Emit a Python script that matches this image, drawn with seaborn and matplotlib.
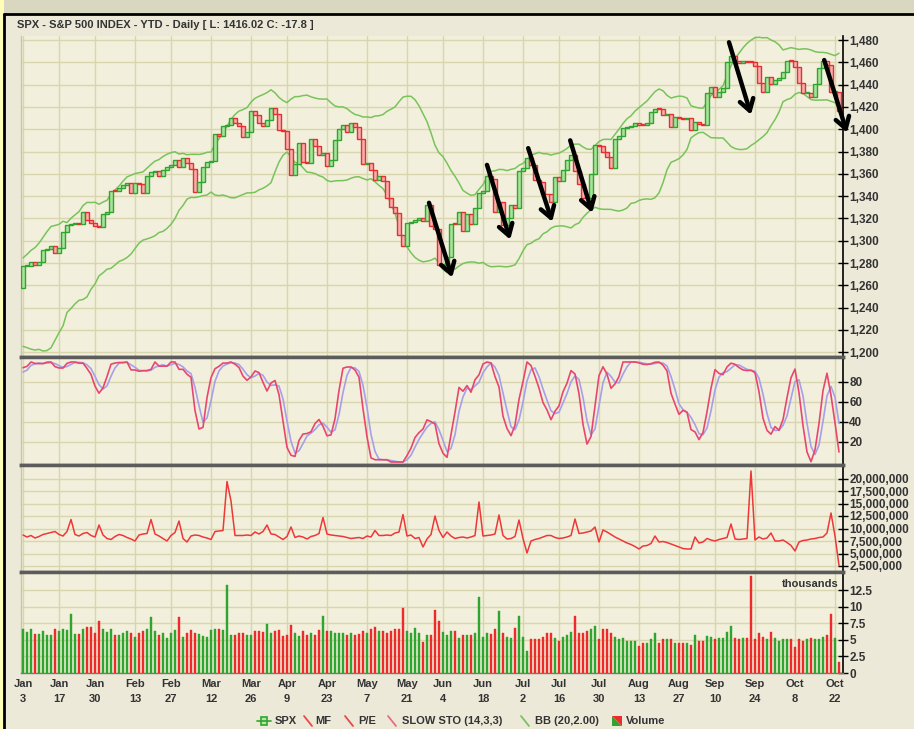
import numpy as np
import pandas as pd
import matplotlib
matplotlib.use("Agg")
import matplotlib.pyplot as plt
import seaborn as sns
from matplotlib.lines import Line2D
from matplotlib.patches import Rectangle, Polygon
from matplotlib.ticker import FixedLocator, FuncFormatter

# ---------------- data ----------------
# Dec 2011 closes (needed to seed the 20-day Bollinger and 14-day stochastic)
prior_closes = [1244.58, 1244.28, 1257.08, 1258.47, 1261.01, 1234.35, 1255.19, 1236.47,
                1225.73, 1211.82, 1215.75, 1219.66, 1205.35, 1241.30, 1243.72, 1254.00,
                1265.33, 1265.43, 1249.64, 1263.02, 1257.60]

close_jan = [1277.06, 1277.30, 1281.06, 1277.81, 1280.70, 1292.08, 1292.48, 1295.50, 1289.09, 1293.67,
             1308.04, 1314.50, 1315.38, 1316.00, 1314.65, 1326.06, 1318.43, 1316.33, 1313.01, 1312.41]
close_feb = [1324.09, 1325.54, 1344.90, 1344.33, 1347.05, 1349.96, 1351.95, 1342.64, 1351.77, 1350.50,
             1343.23, 1358.04, 1361.23, 1362.21, 1357.66, 1363.46, 1365.74, 1367.59, 1372.18, 1365.68]
close_mar = [1374.09, 1369.63, 1364.33, 1343.36, 1352.63, 1365.91, 1370.87, 1371.09, 1395.95, 1394.28, 1402.60,
             1404.17, 1409.75, 1405.52, 1402.89, 1392.78, 1397.11, 1416.51, 1412.52, 1405.54, 1403.28, 1408.47]
close_apr = [1419.04, 1413.38, 1398.96, 1398.08, 1382.20, 1358.59, 1368.71, 1387.57, 1370.26, 1369.57,
             1390.78, 1385.14, 1376.92, 1378.53, 1366.94, 1371.97, 1390.69, 1399.98, 1403.36, 1397.91]
close_may = [1405.82, 1402.31, 1391.57, 1369.10, 1369.58, 1363.72, 1354.58, 1357.99, 1353.39, 1338.35, 1330.66,
             1324.80, 1304.86, 1295.22, 1315.99, 1316.63, 1318.86, 1320.68, 1317.82, 1332.42, 1313.32, 1310.33]
close_jun = [1278.04, 1278.18, 1285.50, 1315.13, 1314.99, 1325.66, 1308.93, 1324.18, 1314.88, 1329.10, 1342.84,
             1344.78, 1357.98, 1355.69, 1325.51, 1335.02, 1313.72, 1319.99, 1331.85, 1329.04, 1362.16]
close_jul = [1365.51, 1374.02, 1367.58, 1354.68, 1352.46, 1341.47, 1341.45, 1334.76, 1356.78, 1353.64, 1363.67,
             1372.78, 1376.51, 1362.66, 1350.52, 1338.31, 1337.89, 1360.02, 1385.97, 1385.30, 1379.32]
close_aug = [1375.32, 1365.00, 1390.99, 1394.23, 1401.35, 1402.22, 1402.80, 1405.87, 1404.11, 1403.93, 1405.53, 1415.51,
             1418.16, 1418.13, 1413.17, 1413.49, 1402.08, 1411.13, 1410.44, 1409.30, 1410.49, 1399.48, 1406.58]
close_sep = [1404.94, 1403.44, 1432.12, 1437.92, 1429.08, 1433.56, 1436.56, 1459.99, 1465.77, 1461.19,
             1459.32, 1461.05, 1460.26, 1460.15, 1456.89, 1441.59, 1433.32, 1447.15, 1440.67]
close_oct = [1444.49, 1445.75, 1450.99, 1461.40, 1460.93, 1455.88, 1441.48, 1432.56, 1432.84,
             1428.59, 1440.13, 1454.92, 1460.91, 1457.34, 1433.19, 1433.82, 1416.02]

vol_jan = [6.7, 6.2, 6.6, 5.9, 5.9, 6.4, 5.8, 5.8, 6.7, 6.3, 6.6, 6.5, 8.9, 5.9, 5.9, 6.6, 7.0, 6.9, 6.0, 7.9]
vol_feb = [6.6, 6.2, 6.6, 5.8, 5.8, 6.1, 6.3, 6.1, 5.5, 6.0, 6.4, 6.6, 8.5, 6.4, 5.8, 6.0, 5.3, 6.0, 6.5, 8.5]
vol_mar = [5.4, 6.0, 6.5, 6.1, 5.9, 5.6, 5.4, 6.5, 6.7, 6.6, 6.5, 13.4, 5.7, 5.7, 6.0, 6.0, 5.8, 5.8, 6.3, 6.3, 6.2, 7.4]
vol_apr = [6.0, 6.3, 6.5, 5.6, 5.7, 7.3, 6.0, 5.6, 6.3, 5.8, 6.0, 5.7, 6.5, 8.6, 6.3, 6.4, 6.1, 6.0, 6.0, 5.8]
vol_may = [6.0, 5.8, 5.9, 6.3, 6.1, 6.7, 6.9, 6.4, 6.3, 6.0, 6.3, 6.6, 6.6, 9.8, 6.3, 6.1, 6.8, 6.1, 4.7, 5.7, 5.8, 9.5]
vol_jun = [7.9, 6.2, 5.7, 6.4, 6.4, 5.3, 5.8, 5.8, 5.7, 6.1, 11.5, 5.5, 6.0, 5.9, 6.6, 9.4, 6.0, 5.5, 5.3, 6.8, 8.6]
vol_jul = [5.5, 3.4, 5.1, 5.1, 5.1, 5.5, 6.0, 6.0, 5.3, 4.9, 5.5, 5.7, 6.2, 8.6, 6.0, 6.1, 6.4, 6.7, 7.1, 5.1, 6.6]
vol_aug = [6.6, 6.1, 5.5, 5.1, 5.3, 4.9, 4.8, 4.8, 4.1, 4.6, 4.6, 5.1, 6.0, 4.6, 5.2, 5.2, 5.1, 4.6, 4.5, 4.5, 4.5, 4.3, 5.8]
vol_sep = [4.9, 4.9, 5.6, 5.5, 5.1, 5.3, 5.3, 6.2, 7.1, 5.3, 5.1, 5.3, 5.3, 14.7, 5.1, 6.0, 5.5, 5.1, 6.2]
vol_oct = [5.3, 4.9, 5.2, 5.2, 5.1, 3.9, 5.1, 4.8, 5.1, 5.3, 5.1, 5.1, 5.5, 5.8, 9.0, 5.3, 1.7]

# MF line, millions
mf_jan = [8.7, 8.3, 8.6, 8.1, 8.4, 8.8, 9.0, 9.2, 9.4, 8.8, 8.5, 9.4, 11.8, 8.8, 8.5, 9.0, 9.2, 8.6, 8.3, 10.7]
mf_feb = [8.7, 8.0, 7.8, 8.4, 8.8, 8.6, 8.2, 7.9, 7.5, 8.7, 8.9, 9.0, 11.8, 8.9, 8.5, 8.0, 7.5, 8.6, 9.2, 11.5]
mf_mar = [8.0, 7.3, 8.5, 8.7, 8.6, 8.3, 8.1, 7.8, 9.4, 9.5, 9.6, 19.4, 15.5, 8.6, 8.6, 8.6, 8.7, 8.6, 9.3, 8.9, 9.4, 10.7]
mf_apr = [8.9, 8.8, 8.3, 7.8, 8.4, 10.3, 8.2, 8.5, 8.3, 7.9, 8.4, 8.6, 9.0, 12.2, 8.9, 8.7, 8.6, 8.5, 8.4, 8.2]
mf_may = [8.0, 8.1, 8.2, 8.0, 8.5, 8.3, 9.6, 8.6, 8.6, 8.7, 8.6, 9.1, 9.3, 12.8, 8.5, 8.7, 8.0, 8.2, 6.3, 7.9, 8.8, 12.5]
mf_jun = [9.6, 8.2, 9.3, 8.5, 8.0, 8.2, 8.3, 8.1, 8.3, 8.6, 15.3, 8.5, 8.6, 8.7, 8.9, 12.7, 8.6, 7.9, 8.0, 8.4, 11.7]
mf_jul = [8.0, 5.1, 7.5, 7.8, 8.0, 8.3, 8.6, 8.6, 8.2, 8.0, 8.1, 8.3, 8.6, 11.9, 9.0, 9.1, 9.3, 9.5, 10.3, 7.3, 9.7]
mf_aug = [9.3, 8.8, 8.3, 7.9, 7.5, 7.1, 6.8, 6.4, 5.9, 6.5, 6.6, 7.0, 8.5, 7.3, 7.4, 7.2, 6.9, 6.6, 6.3, 6.0, 5.9, 5.9, 8.3]
mf_sep = [7.1, 7.3, 8.0, 7.7, 7.5, 7.8, 8.0, 8.2, 10.9, 7.9, 7.8, 7.9, 8.0, 21.5, 7.7, 8.3, 7.9, 8.1, 9.1]
mf_oct = [7.5, 7.5, 7.7, 7.2, 6.6, 5.5, 7.3, 7.6, 7.7, 7.9, 8.0, 8.2, 8.3, 9.1, 13.1, 8.5, 2.6]

holidays = ["2012-01-16", "2012-02-20", "2012-04-06", "2012-05-28", "2012-07-04", "2012-09-03"]
tick_dates = ["2012-01-03", "2012-01-17", "2012-01-30", "2012-02-13", "2012-02-27", "2012-03-12",
              "2012-03-26", "2012-04-09", "2012-04-23", "2012-05-07", "2012-05-21", "2012-06-04",
              "2012-06-18", "2012-07-02", "2012-07-16", "2012-07-30", "2012-08-13", "2012-08-27",
              "2012-09-10", "2012-09-24", "2012-10-08", "2012-10-22"]

# hand-drawn arrows on the price panel: (day index, price) start -> end
arrow_start = [(101.5, 1334), (116.0, 1368), (126.3, 1383), (136.8, 1390), (176.5, 1478), (200.3, 1462)]
arrow_end = [(107.3, 1267), (121.8, 1301), (132.3, 1317), (142.3, 1325), (182.0, 1413), (206.0, 1397)]

title = "SPX - S&P 500 INDEX - YTD - Daily [ L: 1416.02 C: -17.8 ]"

# ---------------- prep ----------------
closes = (close_jan + close_feb + close_mar + close_apr + close_may + close_jun +
          close_jul + close_aug + close_sep + close_oct)
volume = vol_jan + vol_feb + vol_mar + vol_apr + vol_may + vol_jun + vol_jul + vol_aug + vol_sep + vol_oct
mf = mf_jan + mf_feb + mf_mar + mf_apr + mf_may + mf_jun + mf_jul + mf_aug + mf_sep + mf_oct
n = len(closes)
x = np.arange(n)

dates = pd.bdate_range("2012-01-03", "2012-10-23")
dates = dates[~dates.isin(pd.to_datetime(holidays))]
tick_idx = [int(dates.get_loc(pd.Timestamp(d))) for d in tick_dates]
tick_lbl = [f"{pd.Timestamp(d):%b}\n{pd.Timestamp(d).day}" for d in tick_dates]

opens = np.array([prior_closes[-1]] + closes[:-1])
cl = np.array(closes)
up = cl >= opens

full = pd.Series(prior_closes + closes)
mid = full.rolling(20).mean()
sd = full.rolling(20).std(ddof=0)
bb_up = (mid + 2 * sd).iloc[-n:].to_numpy()
bb_lo = (mid - 2 * sd).iloc[-n:].to_numpy()
lo14 = full.rolling(14).min()
hi14 = full.rolling(14).max()
fast_k = 100 * (full - lo14) / (hi14 - lo14)
slow_k = fast_k.rolling(3).mean()
slow_d = slow_k.rolling(3).mean()
slow_k = slow_k.iloc[-n:].to_numpy()
slow_d = slow_d.iloc[-n:].to_numpy()

# ---------------- style ----------------
sns.set_style("white")
plt.rcParams["font.family"] = ["Liberation Sans", "DejaVu Sans"]
plt.rcParams["font.weight"] = "bold"

W, H = 914, 729
BG = "#ECE9D8"
PLOT_BG = "#F2F0DC"
GRID = "#D9D5AE"
TXT = "#333333"

fig = plt.figure(figsize=(W / 100, H / 100), dpi=100, facecolor=BG)


def fx(px):
    return px / W


def fy(py):
    return 1 - py / H


# frame decoration
fig.add_artist(Rectangle((0, fy(13)), 1, 13 / H, transform=fig.transFigure, facecolor="#DAD7C0",
                         edgecolor="none", zorder=0))
fig.add_artist(Rectangle((0, 0), fx(4), 1, transform=fig.transFigure, facecolor="#FFFFB8",
                         edgecolor="none", zorder=0))
fig.add_artist(Line2D([fx(4), 1], [fy(14), fy(14)], transform=fig.transFigure, color="black", lw=2))
fig.add_artist(Line2D([fx(4), fx(4)], [0, fy(14)], transform=fig.transFigure, color="black", lw=2))

L, R = 21, 843
panels = [(36, 357), (357, 465), (465, 572), (572, 673)]
axes = []
for top, bot in panels:
    ax = fig.add_axes([fx(L), fy(bot), (R - L) / W, (bot - top) / H])
    ax.set_facecolor(PLOT_BG)
    axes.append(ax)
ax1, ax2, ax3, ax4 = axes

for ax in axes:
    ax.set_xlim(-0.5, 205)
    ax.xaxis.set_major_locator(FixedLocator(tick_idx))
    ax.grid(True, color=GRID, lw=1.0, zorder=0)
    ax.set_axisbelow(True)
    ax.yaxis.tick_right()
    ax.tick_params(axis="y", which="both", direction="inout", length=7, width=1, color="black",
                   labelsize=8.5, labelcolor=TXT, pad=1, left=False, right=True)
    for s in ("top", "bottom"):
        ax.spines[s].set_color("#5C5C5C")
        ax.spines[s].set_linewidth(2.5)
    ax.spines["left"].set_color("#C9C6A6")
    ax.spines["left"].set_linewidth(1)
    ax.spines["right"].set_color("black")
    ax.spines["right"].set_linewidth(1.2)
    for lab in ax.get_yticklabels():
        lab.set_fontweight("bold")
ax1.spines["top"].set_visible(False)
ax4.spines["bottom"].set_linewidth(1.0)
ax4.spines["bottom"].set_color("#777777")

for ax in (ax1, ax2, ax3):
    ax.tick_params(axis="x", length=0, labelbottom=False)

# ---- price panel
ax1.set_ylim(1195.7, 1483.6)
ax1.set_yticks(np.arange(1200, 1481, 20))
ax1.yaxis.set_major_formatter(FuncFormatter(lambda v, p: f"{v:,.0f}"))
body_lo = np.minimum(opens, cl)
body_h = np.maximum(np.abs(cl - opens), 0.8)
face = ["#A9E29A" if u else "#F7AFAF" for u in up]
edge = ["#2FA52F" if u else "#E82E2E" for u in up]
ax1.bar(x, body_h, bottom=body_lo, width=0.8, color=face, edgecolor=edge, linewidth=1.0, zorder=3)
sns.lineplot(x=x, y=bb_up, ax=ax1, color="#78C35A", lw=1.1, zorder=2)
sns.lineplot(x=x, y=bb_lo, ax=ax1, color="#78C35A", lw=1.1, zorder=2)
for s, e in zip(arrow_start, arrow_end):
    ax1.annotate("", xy=e, xytext=s, annotation_clip=False, zorder=6,
                 arrowprops=dict(arrowstyle="->,head_length=0.8,head_width=0.5", lw=3.2,
                                 color="black", shrinkA=0, shrinkB=0))

# ---- slow stochastic
ax2.set_ylim(-3, 105)
ax2.set_yticks([20, 40, 60, 80])
sns.lineplot(x=x, y=slow_d, ax=ax2, color="#A79FEA", lw=1.2, zorder=3)
sns.lineplot(x=x, y=slow_k, ax=ax2, color="#E8466E", lw=1.2, zorder=4)

# ---- MF
ax3.set_ylim(1.3, 22.7)
ax3.set_yticks(np.arange(2.5, 20.01, 2.5))
ax3.yaxis.set_major_formatter(FuncFormatter(lambda v, p: f"{v * 1e6:,.0f}"))
sns.lineplot(x=x, y=mf, ax=ax3, color="#EE3838", lw=1.1, zorder=3)

# ---- volume
ax4.set_ylim(0, 15.3)
ax4.set_yticks(np.arange(0, 12.51, 2.5))
ax4.yaxis.set_major_formatter(FuncFormatter(lambda v, p: f"{v:g}"))
vcol = ["#2EA52E" if u else "#EE2B2B" for u in up]
ax4.bar(x, volume, width=0.62, color=vcol, edgecolor=vcol, linewidth=0.3, zorder=3)
ax4.text(0.995, 0.88, "thousands", transform=ax4.transAxes, ha="right", va="center",
         fontsize=8, fontweight="bold", color=TXT)
ax4.set_xticklabels(tick_lbl, linespacing=1.7)
ax4.tick_params(axis="x", direction="inout", length=4, color="#555555", labelsize=8,
                labelcolor=TXT, pad=2)
for lab in ax4.get_xticklabels():
    lab.set_fontweight("bold")

for ax in axes:
    ax.set_xlabel("")
    ax.set_ylabel("")

# ---- title
fig.text(fx(17), fy(25), title, fontsize=8, fontweight="bold", color=TXT, va="center", ha="left")

# ---- legend (drawn in figure pixels)
ly = fy(721)
fig.add_artist(Rectangle((fx(261), fy(725)), fx(6), 8 / H, transform=fig.transFigure,
                         facecolor="#B8E6A8", edgecolor="#2FA52F", lw=1.2))
fig.add_artist(Line2D([fx(257), fx(271)], [ly, ly], transform=fig.transFigure, color="#2FA52F", lw=1.2))
for (x0, col, label, tx) in [(304, "#E84848", "MF", 315), (345, "#E84848", "P/E", 358),
                             (388, "#E86A8A", "SLOW STO (14,3,3)", 402),
                             (521, "#78C35A", "BB (20,2.00)", 535)]:
    fig.add_artist(Line2D([fx(x0), fx(x0 + 8)], [fy(716), fy(726)], transform=fig.transFigure,
                          color=col, lw=1.3))
    fig.text(fx(tx), ly, label, fontsize=8, fontweight="bold", color=TXT, va="center", ha="left")
fig.text(fx(275), ly, "SPX", fontsize=8, fontweight="bold", color=TXT, va="center", ha="left")
fig.add_artist(Polygon([(fx(612), fy(726)), (fx(622), fy(726)), (fx(612), fy(716))],
                       transform=fig.transFigure, facecolor="#2EA52E", edgecolor="none"))
fig.add_artist(Polygon([(fx(622), fy(716)), (fx(622), fy(726)), (fx(612), fy(716))],
                       transform=fig.transFigure, facecolor="#EE2B2B", edgecolor="none"))
fig.text(fx(626), ly, "Volume", fontsize=8, fontweight="bold", color=TXT, va="center", ha="left")

fig.savefig("out.png", dpi=100, facecolor=BG)
